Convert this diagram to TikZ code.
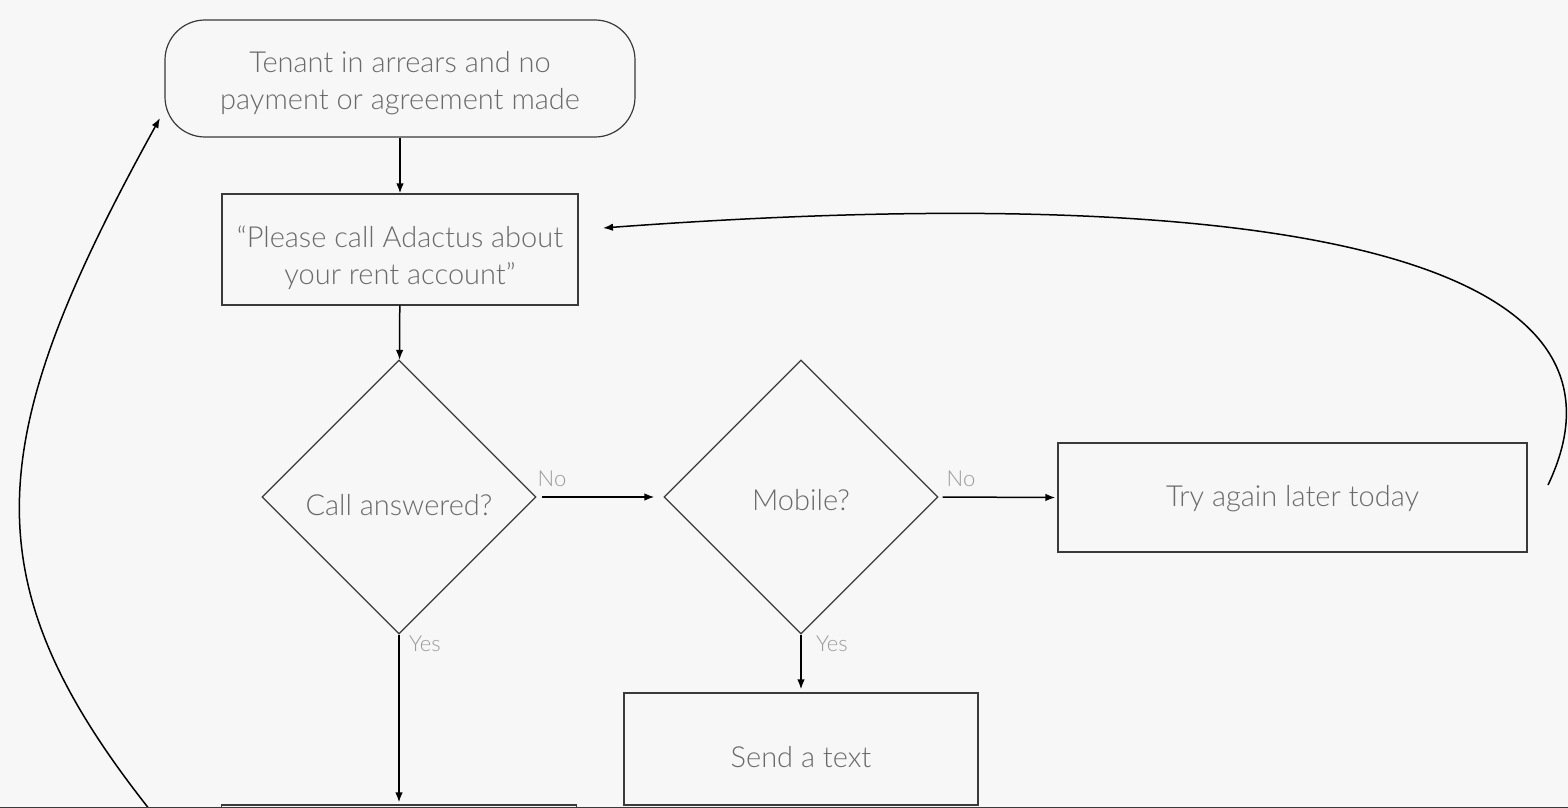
\documentclass[tikz,border=0pt]{standalone}
\usepackage{fontspec}
\setmainfont{Lato}[UprightFont={* Light}]
\usetikzlibrary{shapes.geometric,arrows.meta}
\definecolor{bg}{HTML}{F7F7F7}
\definecolor{txt}{HTML}{6A6A6A}
\definecolor{lbltxt}{HTML}{9A9A9A}
\definecolor{edge}{HTML}{3A3A3A}
\newcommand\dn[2]{\raisebox{-#1pt}[\height][\depth]{\begin{tabular}{@{}c@{}}#2\end{tabular}}}
\tikzset{
  base/.style={draw=edge, line width=1.2pt, text=txt, align=center, inner sep=0pt,
    font=\fontsize{29}{37}\selectfont},
  box/.style={base, rectangle},
  rbox/.style={base, rectangle, rounded corners=40pt},
  dia/.style={base, diamond, aspect=1, minimum width=274pt, minimum height=274pt},
  lbl/.style={text=lbltxt, inner sep=0pt, font=\fontsize{22}{24}\selectfont},
  arr/.style={draw=black, line width=1.5pt, -{Latex[length=10pt,width=7.5pt]}},
}
\begin{document}
\begin{tikzpicture}[x=1pt,y=-1pt]
\fill[bg] (0,0) rectangle (1568,808);
\useasboundingbox (0,0) rectangle (1568,808);

\node[rbox, minimum width=470pt, minimum height=117pt] (start) at (400,78.5)
  {\dn{5}{Tenant in arrears and no\\payment or agreement made}};
\node[box, minimum width=356pt, minimum height=111pt] (call) at (400,249.5)
  {\dn{9}{“Please call Adactus about\\your rent account”}};
\node[dia] (ans) at (399,497) {\dn{11}{Call answered?}};
\node[dia] (mob) at (801,497) {\dn{6}{Mobile?}};
\node[box, minimum width=469pt, minimum height=109pt] (try) at (1292.5,497.5)
  {\dn{2}{Try again later today}};
\node[box, minimum width=354pt, minimum height=112pt] (text) at (801,749)
  {\dn{11}{Send a text}};
\node[box, minimum width=355pt, minimum height=110pt] (next) at (399,860) {};

\draw[arr] (start) -- (call);
\draw[arr] (call) -- (ans);
\draw[arr, shorten <=5pt, shorten >=9pt] (ans.east) -- (mob.west);
\draw[arr, shorten <=4pt, shorten >=2pt] (mob.east) -- (try.west);
\draw[arr, shorten >=2pt] (ans.south) -- (next.north);
\draw[arr, shorten >=3pt] (mob.south) -- (text.north);

\node[lbl] (no1) at (552,479) {No};
\node[lbl] (no2) at (961,479) {No};
\node[lbl] (yes1) at (425,644) {Yes};
\node[lbl] (yes2) at (832,644) {Yes};

\coordinate (lstart) at (150,810);
\coordinate (ltip) at (160,118);
\draw[arr] (lstart) .. controls (-32,580) and (-18,440) .. (ltip);

\coordinate (rstart) at (1548,485);
\coordinate (rtip) at (603,228);
\draw[arr] (rstart) .. controls (1660,250) and (1250,180) .. (rtip);

\draw[draw=edge, line width=2.5pt] (0,808) -- (1568,808);
\end{tikzpicture}
\end{document}
